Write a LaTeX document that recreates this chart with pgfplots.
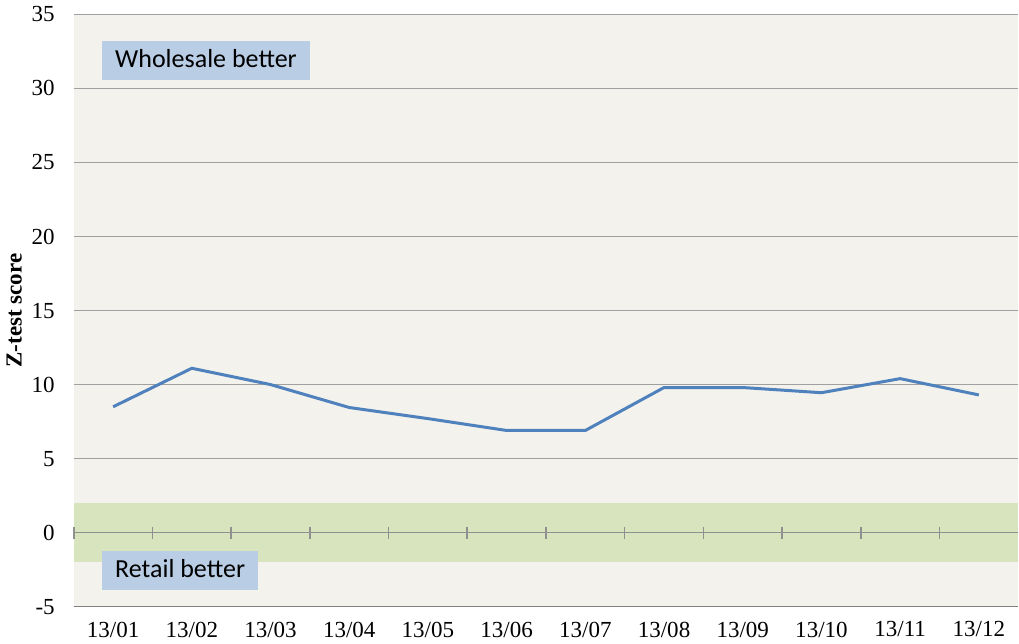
\documentclass[border=0pt]{standalone}
\usepackage{pgfplots}
\pgfplotsset{compat=1.18}
\usepackage{fontspec}
\setmainfont{Liberation Serif}
\newfontfamily\boxfont{Carlito}
\definecolor{bgc}{HTML}{F4F2ED}
\definecolor{band}{HTML}{D7E4BD}
\definecolor{boxc}{HTML}{B9CDE5}
\definecolor{linec}{HTML}{4F81BD}
\definecolor{gridc}{HTML}{A0A0A0}
\begin{document}
\begin{tikzpicture}
\begin{axis}[
  scale only axis,
  width=472pt, height=296pt,
  xmin=-0.5, xmax=11.5,
  ymin=-5, ymax=35,
  ytick={-5,0,5,10,15,20,25,30,35},
  xtick={0,...,11},
  xticklabels={13/01,13/02,13/03,13/04,13/05,13/06,13/07,13/08,13/09,13/10,13/11,13/12},
  major tick length=0pt,
  axis line style={draw=none},
  ymajorgrids,
  grid style={gridc, line width=0.8pt},
  axis background/.style={fill=bgc},
  tick label style={font=\fontsize{11.5}{13}\selectfont, black},
  /pgf/number format/assume math mode=true,
  yticklabel style={xshift=-6pt},
  xticklabel style={yshift=-4pt},
  ylabel={\textbf{Z-test score}},
  ylabel style={font=\fontsize{11.5}{13}\selectfont, yshift=-2pt},
  clip=false,
]
\addplot[fill=band, draw=none] coordinates {(-0.5,-2) (11.5,-2) (11.5,2) (-0.5,2)} -- cycle;
\addplot[gridc!90!black, line width=0.8pt] coordinates {(-0.5,0) (11.5,0)};
\addplot[only marks, mark=|, mark size=3pt, mark options={gridc!90!black, line width=0.8pt}]
  coordinates {(-0.5,0) (0.5,0) (1.5,0) (2.5,0) (3.5,0) (4.5,0) (5.5,0) (6.5,0) (7.5,0) (8.5,0) (9.5,0) (10.5,0)};
\addplot[gridc!80!black, line width=0.8pt] coordinates {(-0.5,-5) (11.5,-5)};
\addplot[linec, line width=1.5pt, mark=none] coordinates {
(0,8.5) (1,11.1) (2,10.0) (3,8.45) (4,7.7) (5,6.9) (6,6.9) (7,9.8) (8,9.8) (9,9.45) (10,10.4) (11,9.3)};
\node[fill=boxc, anchor=north west, inner xsep=6.5pt, minimum height=19.5pt, text height=9pt, text depth=2.2pt, font=\boxfont\fontsize{13}{15}\selectfont]
  at (rel axis cs:0.0297,0.956) {Wholesale better\hspace{3pt}};
\node[fill=boxc, anchor=north west, inner xsep=6.5pt, minimum height=19.5pt, text height=9pt, text depth=2.2pt, font=\boxfont\fontsize{13}{15}\selectfont]
  at (rel axis cs:0.0297,0.0946) {Retail better};
\end{axis}
\end{tikzpicture}
\end{document}
